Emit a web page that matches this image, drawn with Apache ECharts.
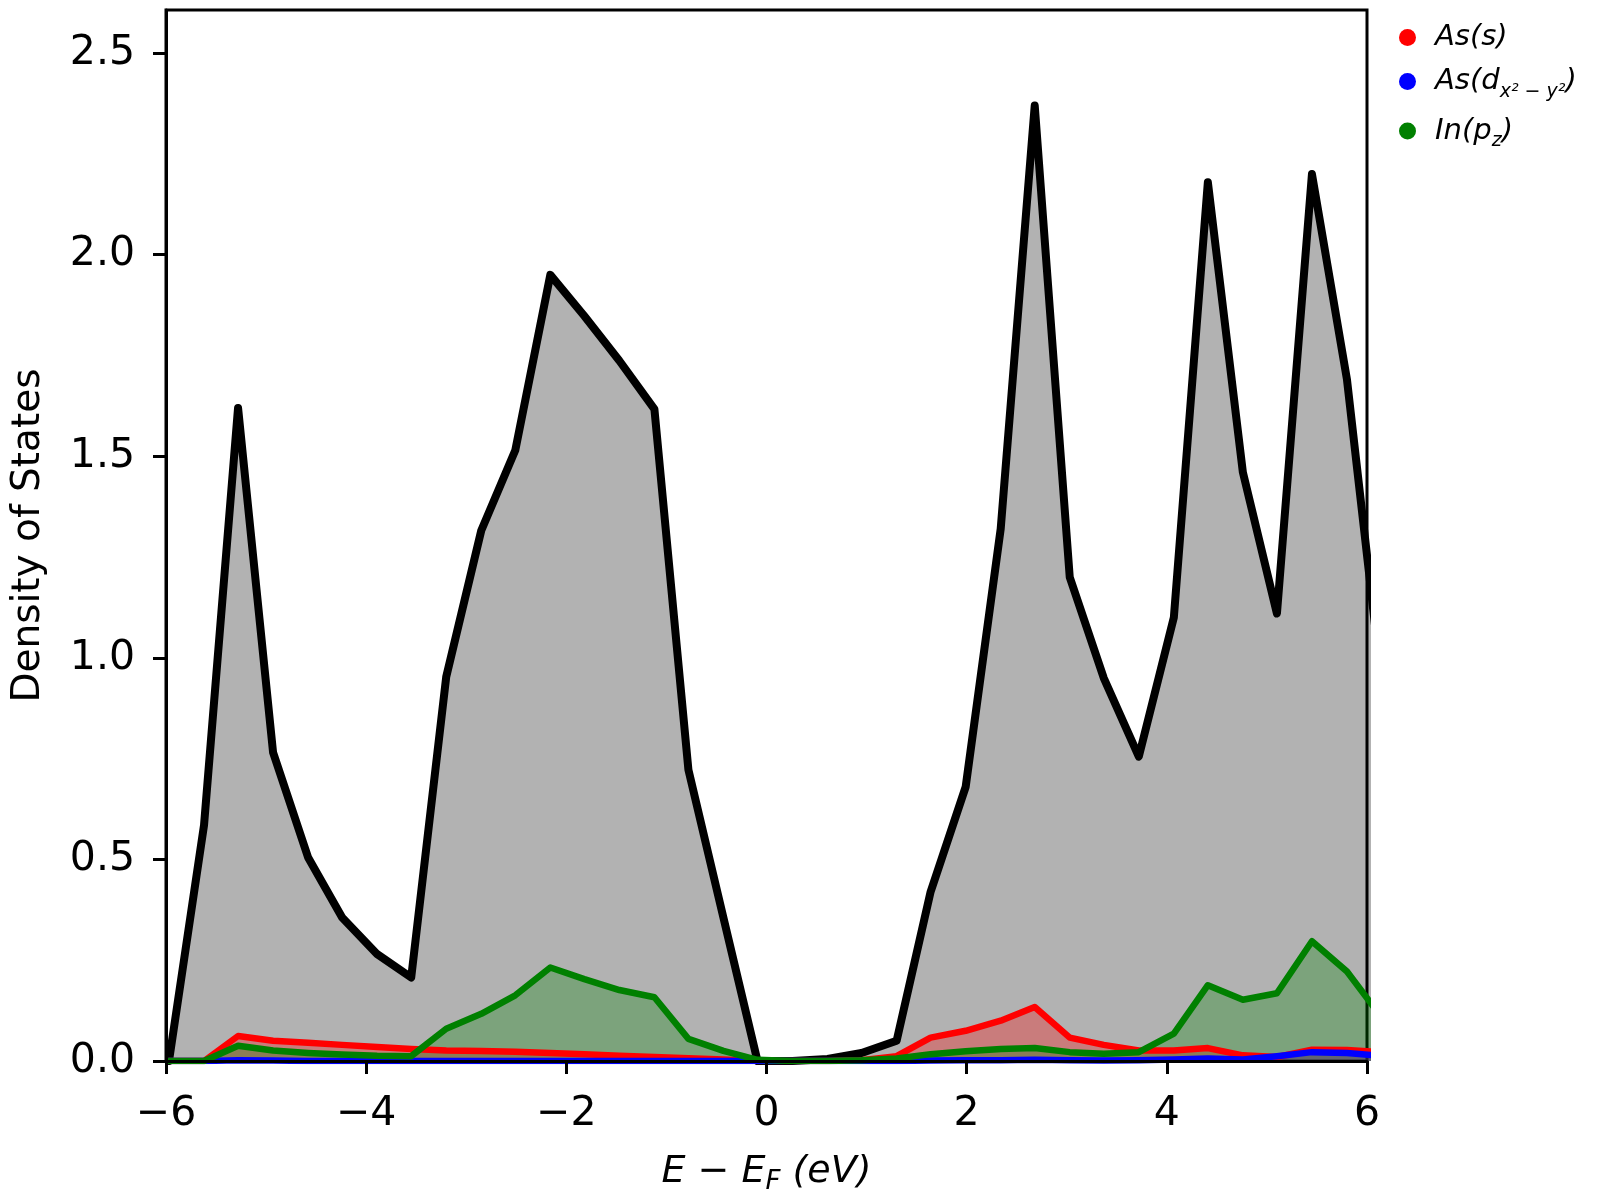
<!DOCTYPE html>
<html>
<head>
<meta charset="utf-8">
<script src="https://cdn.jsdelivr.net/npm/echarts@6/dist/echarts.min.js"></script>
<style>
  html, body { margin: 0; padding: 0; background: #fff; }
  #main { width: 1600px; height: 1200px; }
</style>
</head>
<body>
<div id="main"></div>
<script>
// energy grid (eV, relative to E_F)
var energies = [-5.97, -5.62, -5.28, -4.93, -4.58, -4.24, -3.89, -3.55, -3.20, -2.85,
                -2.51, -2.16, -1.82, -1.47, -1.12, -0.78, -0.43, -0.09, 0.26, 0.61,
                0.95, 1.30, 1.64, 1.99, 2.34, 2.68, 3.03, 3.37, 3.72, 4.07,
                4.41, 4.76, 5.10, 5.45, 5.80, 6.14];
// total DOS
var totalDos = [0.0, 0.585, 1.62, 0.765, 0.505, 0.356, 0.265, 0.207, 0.953, 1.316,
                1.515, 1.95, 1.848, 1.737, 1.617, 0.722, 0.355, 0.0, 0.0, 0.005,
                0.02, 0.05, 0.42, 0.68, 1.32, 2.37, 1.20, 0.95, 0.755, 1.10,
                2.18, 1.46, 1.11, 2.20, 1.69, 0.95];
// As(s)
var asS = [0.0, 0.0, 0.062, 0.05, 0.045, 0.04, 0.035, 0.03, 0.026, 0.025,
           0.023, 0.02, 0.017, 0.013, 0.01, 0.007, 0.004, 0.0, 0.0, 0.0,
           0.002, 0.012, 0.058, 0.075, 0.10, 0.134, 0.058, 0.04, 0.026, 0.026,
           0.032, 0.014, 0.01, 0.028, 0.027, 0.022];
// As(d x2-y2)
var asD = [0.0, 0.0, 0.002, 0.001, 0.0, 0.0, 0.0, 0.0, 0.0, 0.0,
           0.0, 0.0, 0.0, 0.0, 0.0, 0.0, 0.0, 0.0, 0.0, 0.0,
           0.0, 0.0, 0.001, 0.002, 0.002, 0.003, 0.002, 0.001, 0.002, 0.004,
           0.006, 0.004, 0.012, 0.022, 0.02, 0.013];
// In(pz)
var inPz = [0.0, 0.0, 0.038, 0.026, 0.02, 0.016, 0.013, 0.012, 0.08, 0.117,
            0.163, 0.232, 0.203, 0.176, 0.158, 0.055, 0.025, 0.003, 0.0, 0.0,
            0.002, 0.006, 0.017, 0.024, 0.03, 0.032, 0.022, 0.018, 0.022, 0.068,
            0.188, 0.152, 0.168, 0.297, 0.222, 0.11];

var xTicks = [-6, -4, -2, 0, 2, 4, 6];
var yTicks = [0, 0.5, 1.0, 1.5, 2.0, 2.5];
var yMax = 2.607;

var FONT = 'DejaVu Sans';

function pairs(ys) {
    return energies.map(function(e, i) { return [e, ys[i]]; });
}

function dosSeries(name, color, ys, width) {
    return {
        name: name,
        type: 'line',
        data: pairs(ys),
        showSymbol: false,
        symbol: 'circle',
        clip: true,
        lineStyle: { color: color, width: width, join: 'round', cap: 'round' },
        itemStyle: { color: color },
        areaStyle: { color: color, opacity: 0.3, origin: 0 },
        emphasis: { disabled: true }
    };
}

var myChart = echarts.init(document.getElementById('main'));

var option = {
    animation: false,
    backgroundColor: '#fff',
    grid: {
        left: 166, right: 233, top: 10, bottom: 138,
        show: true, borderColor: '#000', borderWidth: 3, backgroundColor: 'transparent'
    },
    legend: {
        data: ['As(s)', 'As(d)', 'In(pz)'],
        orient: 'vertical',
        left: 1394,
        top: 18,
        icon: 'circle',
        itemWidth: 17,
        itemHeight: 17,
        itemGap: 15,
        formatter: function(name) {
            if (name === 'As(s)') return '{g|}{m|As(s)}';
            if (name === 'As(d)') return '{g|}{m|As(d}{s|x² − y²}{m|)}';
            return '{g|}{m|In(p}{s|z}{m|)}';
        },
        textStyle: {
            fontFamily: FONT,
            rich: {
                g: { width: 14 },
                m: { fontFamily: FONT, fontStyle: 'italic', fontSize: 29, lineHeight: 40, color: '#000' },
                s: { fontFamily: FONT, fontStyle: 'italic', fontSize: 19, lineHeight: 26, verticalAlign: 'bottom', color: '#000' }
            }
        }
    },
    xAxis: {
        type: 'value',
        z: 5,
        min: -6, max: 6, interval: 2,
        name: '{i|E − E}{s|F}{i| (eV)}',
        nameLocation: 'middle',
        nameGap: 88,
        nameTextStyle: {
            rich: {
                i: { fontFamily: FONT, fontStyle: 'italic', fontSize: 38, lineHeight: 46, color: '#000' },
                s: { fontFamily: FONT, fontStyle: 'italic', fontSize: 26, lineHeight: 30, verticalAlign: 'bottom', color: '#000' }
            }
        },
        axisLine: { show: true, onZero: false, lineStyle: { color: '#000', width: 3 } },
        axisTick: { show: true, inside: false, length: 13, lineStyle: { color: '#000', width: 3 }, customValues: xTicks },
        axisLabel: {
            customValues: xTicks,
            margin: 33,
            fontFamily: FONT, fontSize: 41, color: '#000',
            formatter: function(v) { return v < 0 ? '−' + Math.abs(v) : String(v); }
        },
        splitLine: { show: false }
    },
    yAxis: {
        type: 'value',
        z: 5,
        min: 0, max: yMax,
        name: 'Density of States',
        nameLocation: 'middle',
        nameGap: 118,
        nameTextStyle: { fontFamily: FONT, fontSize: 39, color: '#000' },
        axisLine: { show: true, onZero: false, lineStyle: { color: '#000', width: 3 } },
        axisTick: { show: true, inside: false, length: 13, lineStyle: { color: '#000', width: 3 }, customValues: yTicks },
        axisLabel: {
            customValues: yTicks,
            margin: 31,
            fontFamily: FONT, fontSize: 41, color: '#000',
            formatter: function(v) { return v.toFixed(1); }
        },
        splitLine: { show: false }
    },
    series: [
        dosSeries('Total', '#000000', totalDos, 8),
        dosSeries('As(s)', '#ff0000', asS, 6.5),
        dosSeries('As(d)', '#0000ff', asD, 6.5),
        dosSeries('In(pz)', '#008000', inPz, 6.5)
    ]
};

myChart.setOption(option);
</script>
</body>
</html>
